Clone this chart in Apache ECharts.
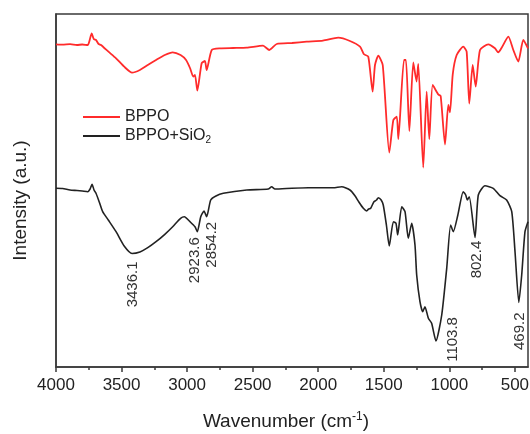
<!DOCTYPE html>
<html><head><meta charset="utf-8">
<script src="https://cdn.jsdelivr.net/npm/echarts@6/dist/echarts.min.js"></script>
<style>html,body{margin:0;padding:0;background:#fff}#c{width:530px;height:434px}</style>
</head><body><div id="c"></div>
<script>
// ---- data ----
const seriesNames = ['BPPO', 'BPPO+SiO2'];
const bppoWavenumber = [4000,3950,3893,3840,3800,3758,3745,3728,3712,3695,3675,3657,3600,3542,3480,3420,3360,3300,3237,3170,3110,3050,3008,2978,2953,2940,2922,2889,2864,2851,2812,2749,2650,2545,2421,2373,2317,2200,2088,1964,1847,1758,1681,1651,1618,1585,1567,1542,1508,1458,1427,1401,1389,1346,1331,1305,1275,1250,1237,1199,1173,1153,1127,1084,1066,1033,1008,995,974,944,894,868,848,822,799,766,703,652,627,601,550,512,474,436,400];
const bppoIntensity = [322.7,322.3,322.8,322,322.5,322,326,333.7,328,327,323,322,315.3,308.7,300.3,294.3,297,302,307,312,314.7,312,307,299,290.3,292,276.3,303.7,306,297,317,318.7,319,319.3,321.3,317,323,324,325.3,326.3,329.3,326,320.3,312.7,310.3,275.3,302,311.3,302,214.5,247,250.3,228,307,307,236,304.5,285.5,303,199.5,275.3,228,282,272.5,271,222.5,262,254.7,292.7,312,320.3,315.3,263.5,302,280.5,317,322.7,318.7,314.7,319.3,330.3,317,305.3,327,318.7];
const sio2Wavenumber = [4000,3950,3893,3840,3800,3758,3740,3725,3710,3695,3670,3644,3600,3542,3480,3420,3360,3300,3237,3170,3110,3050,3021,2978,2940,2922,2896,2871,2851,2820,2780,2724,2545,2381,2355,2330,2200,2076,1885,1821,1758,1720,1690,1656,1630,1615,1600,1575,1555,1542,1520,1504,1480,1458,1427,1407,1394,1363,1338,1313,1287,1262,1249,1224,1203,1186,1160,1135,1102,1058,1020,990,970,935,894,875,863,848,804,779,728,665,614,563,524,499,470,448,423,400];
const sio2Intensity = [178.7,178.5,177,176.5,176,175.3,178,182.7,177,173.7,165,155.3,146.8,135.3,121,113.5,115,119.3,125.3,132.7,140.3,148.7,150.3,145.3,140.3,135.3,150.3,156,150.3,167,171,173.7,177,178,180.3,178,178.8,179.3,179.3,180.3,177,171.3,165,158.7,156,158,158.7,165.3,167,169.3,167,162,142,121,145.3,143.7,132,160.3,155.3,128.7,143.7,122,92,65.3,55.3,60.3,48.7,43.7,26,52,98.7,142,135.3,152,175.3,172,167,170.3,129.5,172,181.3,178.7,171.3,167,155.3,115.3,64.5,92,135.3,145.3];
const xTickValues = [4000,3500,3000,2500,2000,1500,1000,500];
const xMinorTickValues = [3750,3250,2750,2250,1750,1250,750];
const peakLabels = ['3436.1','2923.6','2854.2','1103.8','802.4','469.2'];
const peakWavenumbers = [3436.1,2923.6,2854.2,1103.8,802.4,469.2];

// ---- styling ----
const FONT = '"Liberation Sans", Arial, sans-serif';
const labelShift = [[3,10],[-2,6],[6,6],[17,-23],[2,6],[1,11]]; // pixel offsets of annotation text

function zip(a, b) { return a.map((v, i) => [v, b[i]]); }
function interp(ws, vs, w) {
  for (let i = 0; i < ws.length - 1; i++) {
    if ((ws[i] >= w && ws[i + 1] <= w)) {
      const t = (ws[i] - w) / (ws[i] - ws[i + 1]);
      return vs[i] + t * (vs[i + 1] - vs[i]);
    }
  }
  return vs[vs.length - 1];
}

const markData = peakLabels.map((t, i) => ({
  coord: [peakWavenumbers[i], interp(sio2Wavenumber, sio2Intensity, peakWavenumbers[i])],
  label: { position: labelShift[i], formatter: t }
}));

const chart = echarts.init(document.getElementById('c'), null, { renderer: 'canvas' });
chart.setOption({
  animation: false,
  backgroundColor: '#fff',
  textStyle: { fontFamily: FONT },
  grid: { left: 56, right: 2, top: 14, bottom: 67, show: true, borderColor: '#3a3a3a', borderWidth: 1.5,
    containLabel: false, outerBoundsMode: 'none' },
  legend: {
    orient: 'vertical', left: 78, top: 104, itemWidth: 37, itemHeight: 2, itemGap: 3, icon: 'rect',
    data: seriesNames,
    formatter: n => n === 'BPPO+SiO2' ? 'BPPO+SiO{sub|2}' : n,
    textStyle: { fontSize: 16, color: '#222', fontFamily: FONT,
      rich: { sub: { fontSize: 10, fontFamily: FONT, color: '#222', padding: [8, 0, 0, 0] } } }
  },
  xAxis: [{
    type: 'value', inverse: true, min: 400, max: 4000,
    axisLine: { show: true, onZero: false, lineStyle: { color: '#3a3a3a', width: 1.5 } },
    axisTick: { show: true, inside: false, length: 5, customValues: xTickValues, lineStyle: { color: '#3a3a3a', width: 1.5 } },
    axisLabel: { customValues: xTickValues, fontSize: 17, color: '#222', margin: 10, fontFamily: FONT,
      formatter: v => String(v) },
    splitLine: { show: false },
    name: 'Wavenumber (cm{sup|-1})', nameLocation: 'middle', nameGap: 44,
    nameTextStyle: { fontSize: 19, color: '#222', fontFamily: FONT, padding: [0, 12, 0, 0],
      rich: { sup: { fontSize: 12, fontFamily: FONT, color: '#222', padding: [0, 0, 9, 0] } } }
  }, {
    type: 'value', inverse: true, min: 400, max: 4000, position: 'bottom',
    axisLine: { show: false },
    axisTick: { show: true, inside: false, length: 3, customValues: xMinorTickValues, lineStyle: { color: '#3a3a3a', width: 1.5 } },
    axisLabel: { show: false }, splitLine: { show: false }
  }],
  yAxis: {
    type: 'value', min: 0, max: 353,
    axisLine: { show: true, onZero: false, lineStyle: { color: '#3a3a3a', width: 1.5 } },
    axisTick: { show: false }, axisLabel: { show: false }, splitLine: { show: false },
    name: 'Intensity (a.u.)', nameLocation: 'middle', nameGap: 26,
    nameTextStyle: { fontSize: 19, color: '#222', fontFamily: FONT, padding: [0, 20, 0, 0] }
  },
  series: [{
    type: 'line', name: seriesNames[0], xAxisIndex: 0,
    data: zip(bppoWavenumber, bppoIntensity),
    symbol: 'none', smooth: 0.2,
    lineStyle: { color: '#ff2b2b', width: 1.8 }, itemStyle: { color: '#ff2b2b' }
  }, {
    type: 'line', name: seriesNames[1], xAxisIndex: 0,
    data: zip(sio2Wavenumber, sio2Intensity),
    symbol: 'none', smooth: 0.2,
    lineStyle: { color: '#222', width: 1.6 }, itemStyle: { color: '#222' },
    markPoint: {
      symbol: 'circle', symbolSize: 0, silent: true,
      itemStyle: { color: 'rgba(0,0,0,0)' },
      label: { show: true, rotate: 90, align: 'right', verticalAlign: 'middle',
        fontSize: 15, color: '#333', fontFamily: FONT },
      data: markData
    }
  }]
});
</script>
</body></html>
